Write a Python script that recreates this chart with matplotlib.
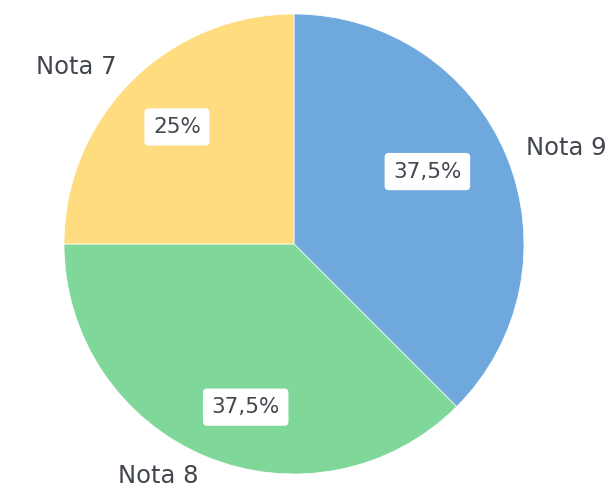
import numpy as np
import matplotlib.pyplot as plt

labels = ["Nota 9", "Nota 8", "Nota 7"]
values = [3, 3, 2]
colors = ["#6FA8DC", "#7FD89A", "#FFDC80"]

plt.rcParams['font.family'] = ['DejaVu Sans']

# where the percentage boxes sit: radius and angle shift from the wedge middle
pct_radius = [0.66, 0.74, 0.72]
pct_shift = [6, 6, 0]


def fmt_pct(p):
    s = ("%.1f" % p).rstrip("0").rstrip(".")
    return s.replace(".", ",") + "%"


fig = plt.figure(figsize=(6.11, 4.92), dpi=100)
# axes sized so the pie sits where it does in the original
ax = fig.add_axes([64 / 611, 18 / 492, 460 / 611, 460 / 492])

wedges, texts, autotexts = ax.pie(
    values, labels=labels, colors=colors, startangle=90, counterclock=False,
    autopct=fmt_pct, pctdistance=0.7, labeldistance=1.09,
    wedgeprops=dict(linewidth=0.5, edgecolor="white"),
    textprops=dict(fontsize=17.5, color="#42464f"))

for w, t, r, d in zip(wedges, autotexts, pct_radius, pct_shift):
    ang = np.deg2rad((w.theta1 + w.theta2) / 2 + d)
    t.set_position((r * np.cos(ang), r * np.sin(ang)))
    t.set_fontsize(15.5)
    t.set_bbox(dict(boxstyle="round,pad=0.4,rounding_size=0.2",
                    facecolor="white", edgecolor="none"))

ax.set_xlim(-1, 1)
ax.set_ylim(-1, 1)
ax.set_aspect("equal")

fig.savefig("out.png", dpi=100)
